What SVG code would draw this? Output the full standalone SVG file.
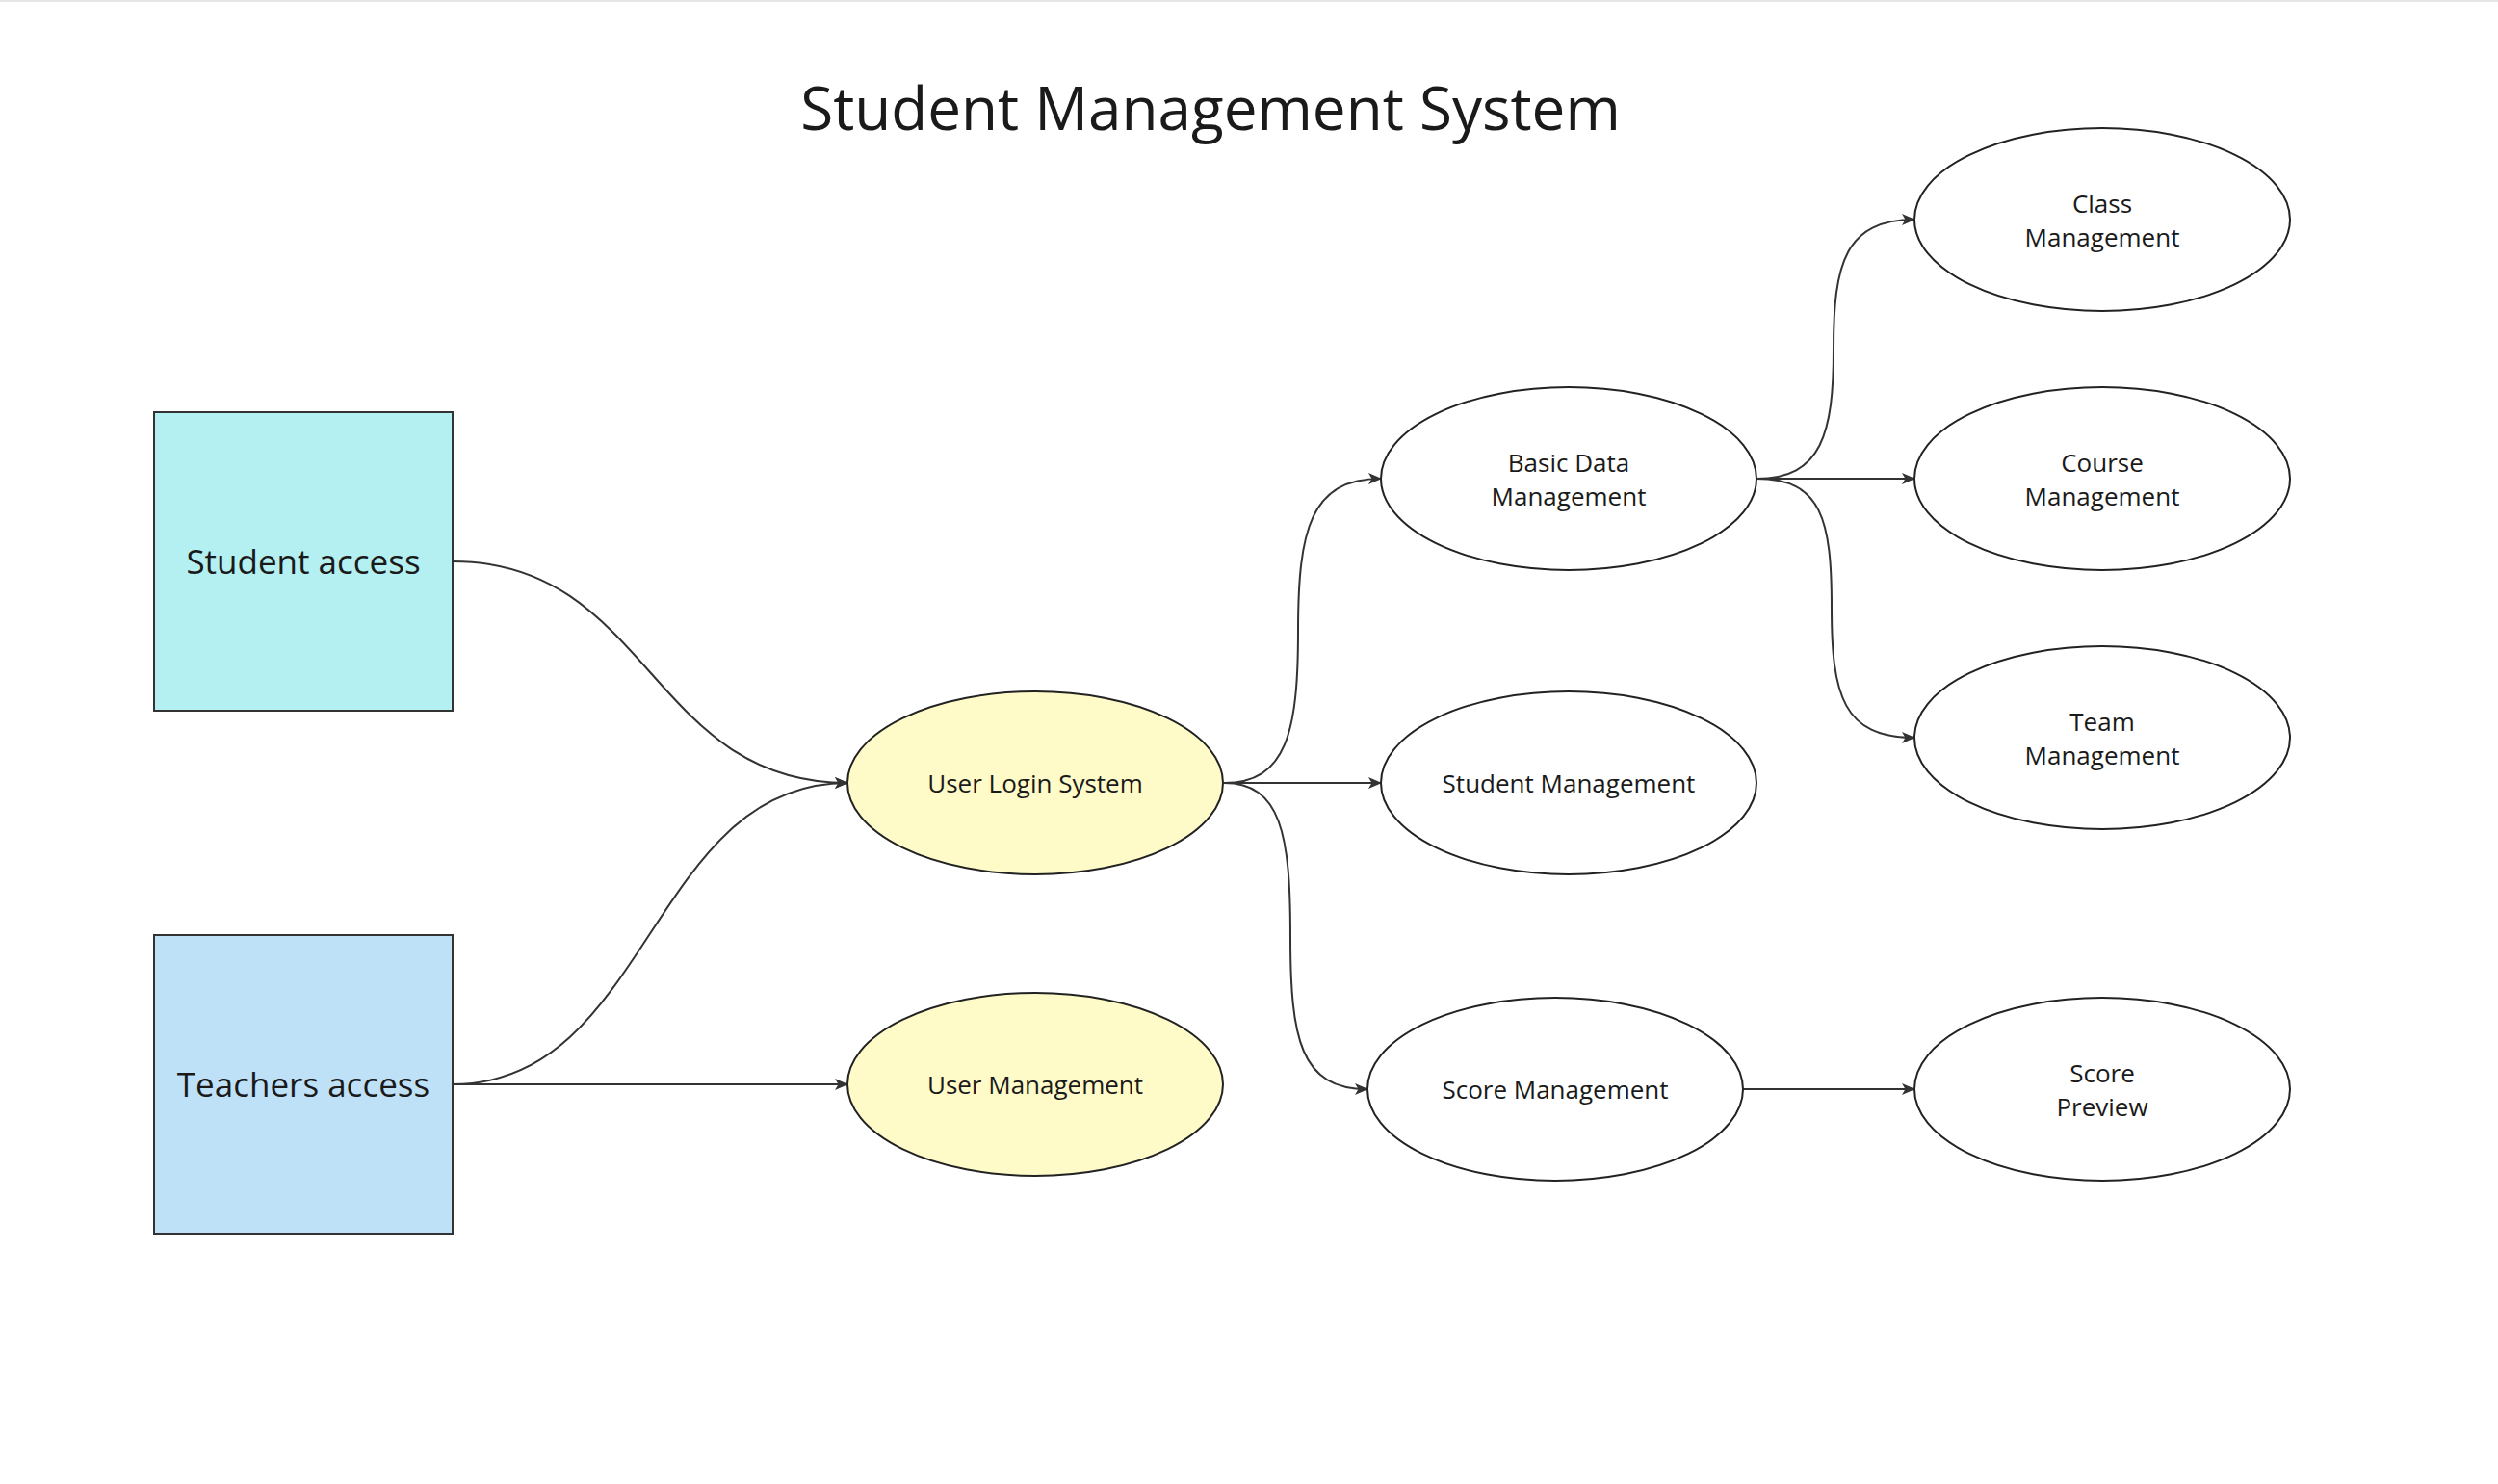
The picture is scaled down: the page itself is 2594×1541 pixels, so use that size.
<svg xmlns="http://www.w3.org/2000/svg" width="2594" height="1541" viewBox="0 0 2594 1541">
<defs>
<style>
.box{stroke:#333;stroke-width:2}
.ell{fill:#fff;stroke:#222;stroke-width:2}
.yel{fill:#fefbc9;stroke:#222;stroke-width:2}
.lbl{font-family:"Open Sans","Noto Sans","Liberation Sans",sans-serif;font-size:26px;fill:#1a1a1a;text-anchor:middle}
.big{font-family:"Open Sans","Noto Sans","Liberation Sans",sans-serif;font-size:35px;fill:#1a1a1a;text-anchor:middle}
.title{font-family:"Open Sans","Noto Sans","Liberation Sans",sans-serif;font-size:62px;fill:#1a1a1a;text-anchor:middle}
.con{fill:none;stroke:#333;stroke-width:2;marker-end:url(#arr)}
</style>
<marker id="arr" viewBox="0 0 14 14" refX="13" refY="7" markerWidth="14" markerHeight="14" markerUnits="userSpaceOnUse" orient="auto">
<path d="M0,1 L14,7 L0,13 L3.5,7 Z" fill="#333"/>
</marker>
</defs>
<rect width="2594" height="1541" fill="#fff"/>
<line x1="0" y1="1" x2="2594" y2="1" stroke="#e6e6e6" stroke-width="2"/>
<text class="title" x="1257" y="135">Student Management System</text>

<g id="connectors">
<path class="con" d="M470,583 C675,583 675,813 880,813"/>
<path class="con" d="M470,1126 C675,1126 675,813 880,813"/>
<path class="con" d="M470,1126 L880,1126"/>
<path class="con" d="M1271,813 C1336,813 1348,760 1348,655 C1348,550 1361,497 1434,497"/>
<path class="con" d="M1271,813 L1434,813"/>
<path class="con" d="M1271,813 C1330,813 1340,866 1340,972 C1340,1078 1350,1131 1420,1131"/>
<path class="con" d="M1810,1131 L1988,1131"/>
<path class="con" d="M1824,497 C1892,497 1904,450 1904,362 C1904,274 1916,228 1988,228"/>
<path class="con" d="M1824,497 L1988,497"/>
<path class="con" d="M1824,497 C1892,497 1902,540 1902,631 C1902,722 1914,766 1988,766"/>
</g>

<g id="student-access">
<rect class="box" x="160" y="428" width="310" height="310" fill="#b4f0f1"/>
<text class="big" x="315" y="596">Student access</text>
</g>
<g id="teachers-access">
<rect class="box" x="160" y="971" width="310" height="310" fill="#bfe1f8"/>
<text class="big" x="315" y="1139">Teachers access</text>
</g>
<g id="user-login-system">
<ellipse class="yel" cx="1075" cy="813" rx="195" ry="95"/>
<text class="lbl" x="1075" y="823">User Login System</text>
</g>
<g id="user-management">
<ellipse class="yel" cx="1075" cy="1126" rx="195" ry="95"/>
<text class="lbl" x="1075" y="1136">User Management</text>
</g>
<g id="basic-data-management">
<ellipse class="ell" cx="1629" cy="497" rx="195" ry="95"/>
<text class="lbl" x="1629" y="490">Basic Data</text>
<text class="lbl" x="1629" y="525">Management</text>
</g>
<g id="student-management">
<ellipse class="ell" cx="1629" cy="813" rx="195" ry="95"/>
<text class="lbl" x="1629" y="823">Student Management</text>
</g>
<g id="score-management">
<ellipse class="ell" cx="1615" cy="1131" rx="195" ry="95"/>
<text class="lbl" x="1615" y="1141">Score Management</text>
</g>
<g id="class-management">
<ellipse class="ell" cx="2183" cy="228" rx="195" ry="95"/>
<text class="lbl" x="2183" y="221">Class</text>
<text class="lbl" x="2183" y="256">Management</text>
</g>
<g id="course-management">
<ellipse class="ell" cx="2183" cy="497" rx="195" ry="95"/>
<text class="lbl" x="2183" y="490">Course</text>
<text class="lbl" x="2183" y="525">Management</text>
</g>
<g id="team-management">
<ellipse class="ell" cx="2183" cy="766" rx="195" ry="95"/>
<text class="lbl" x="2183" y="759">Team</text>
<text class="lbl" x="2183" y="794">Management</text>
</g>
<g id="score-preview">
<ellipse class="ell" cx="2183" cy="1131" rx="195" ry="95"/>
<text class="lbl" x="2183" y="1124">Score</text>
<text class="lbl" x="2183" y="1159">Preview</text>
</g>
</svg>
